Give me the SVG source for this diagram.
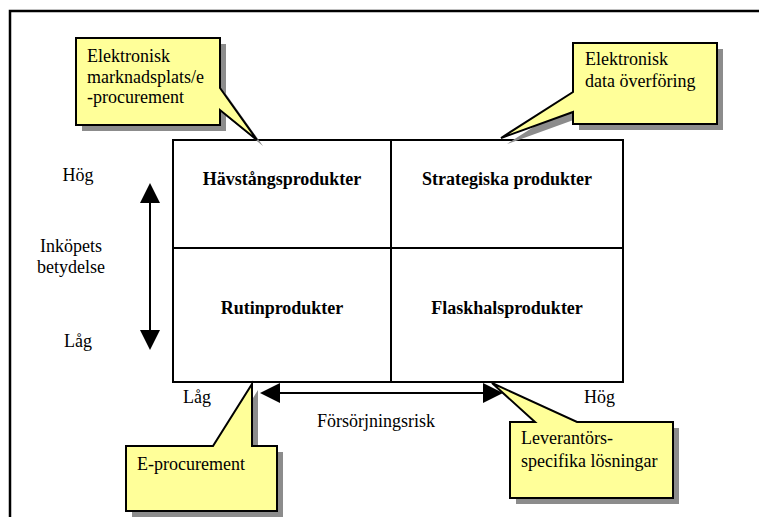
<svg xmlns="http://www.w3.org/2000/svg" width="759" height="517" viewBox="0 0 759 517" font-family="'Liberation Serif', 'Times New Roman', Times, 'DejaVu Serif', serif">
  <style>
    text { font-family: 'Liberation Serif', 'Times New Roman', Times, 'DejaVu Serif', serif; font-size: 18px; fill: #000; }
    .cell { font-weight: bold; text-anchor: middle; }
    .mid { text-anchor: middle; }
    .frame { fill: none; stroke: #000; stroke-width: 2.5; }
    .grid { fill: none; stroke: #000; stroke-width: 2; }
    .shadow { fill: #8c8c8c; stroke: none; }
    .bubble { fill: #ffff99; stroke: #000; stroke-width: 2; stroke-linejoin: miter; }
    .axis { stroke: #000; stroke-width: 2; fill: none; marker-start: url(#head); marker-end: url(#head); }
  </style>
  <defs>
    <marker id="head" viewBox="0 0 20 20" refX="0" refY="10" markerWidth="20" markerHeight="20" markerUnits="userSpaceOnUse" orient="auto-start-reverse">
      <path d="M0,0 L20,10 L0,20 Z" fill="#000"/>
    </marker>
  </defs>

  <rect width="759" height="517" fill="#fff"/>

  <!-- outer frame (only top and left edges fall inside the canvas) -->
  <path class="frame" d="M10,517 V11 H759"/>

  <!-- 2x2 portfolio matrix -->
  <g id="matrix">
    <rect class="grid" x="173" y="140" width="450" height="242"/>
    <line class="grid" x1="391" y1="140" x2="391" y2="382"/>
    <line class="grid" x1="173" y1="248" x2="623" y2="248"/>
  </g>
  <g id="cell-havstang">
    <text class="cell" x="282" y="185">Hävstångsprodukter</text>
  </g>
  <g id="cell-strategiska">
    <text class="cell" x="507" y="185">Strategiska produkter</text>
  </g>
  <g id="cell-rutin">
    <text class="cell" x="282" y="314">Rutinprodukter</text>
  </g>
  <g id="cell-flaskhals">
    <text class="cell" x="507" y="314">Flaskhalsprodukter</text>
  </g>

  <!-- axes -->
  <g id="connectors">
    <line class="axis" x1="150" y1="203" x2="150" y2="330"/>
    <line class="axis" x1="280" y1="393" x2="483" y2="393"/>
  </g>

  <g id="axis-labels">
    <text class="mid" x="78" y="181">Hög</text>
    <text class="mid" x="71" y="252">Inköpets</text>
    <text class="mid" x="71" y="273">betydelse</text>
    <text class="mid" x="78" y="347">Låg</text>
    <text x="183" y="403">Låg</text>
    <text x="584" y="403">Hög</text>
    <text x="317" y="427">Försörjningsrisk</text>
  </g>

  <!-- callouts -->
  <g id="callout-marknadsplats">
    <path class="shadow" transform="translate(6,6)" d="M76,38 H220 V88 L257,140 L220,110 V125 H76 Z"/>
    <path class="bubble" d="M76,38 H220 V88 L257,140 L220,110 V125 H76 Z"/>
    <text x="87" y="62">Elektronisk</text>
    <text x="87" y="83">marknadsplats/e</text>
    <text x="87" y="103">-procurement</text>
  </g>

  <g id="callout-dataoverforing">
    <path class="shadow" transform="translate(6,6)" d="M573,43 H717 V124 H573 V112 L501,138 L573,92 Z"/>
    <path class="bubble" d="M573,43 H717 V124 H573 V112 L501,138 L573,92 Z"/>
    <text x="585" y="65">Elektronisk</text>
    <text x="585" y="87">data överföring</text>
  </g>

  <g id="callout-eprocurement">
    <path class="shadow" transform="translate(6,6)" d="M126,446 H213 L252,384 V446 H277 V511 H126 Z"/>
    <path class="bubble" d="M126,446 H213 L252,384 V446 H277 V511 H126 Z"/>
    <text x="137" y="470">E-procurement</text>
  </g>

  <g id="callout-leverantor">
    <path class="shadow" transform="translate(6,6)" d="M510,422 H535 L492,383 L577,422 H673 V498 H510 Z"/>
    <path class="bubble" d="M510,422 H535 L492,383 L577,422 H673 V498 H510 Z"/>
    <text x="521" y="444">Leverantörs-</text>
    <text x="521" y="467">specifika lösningar</text>
  </g>
</svg>
